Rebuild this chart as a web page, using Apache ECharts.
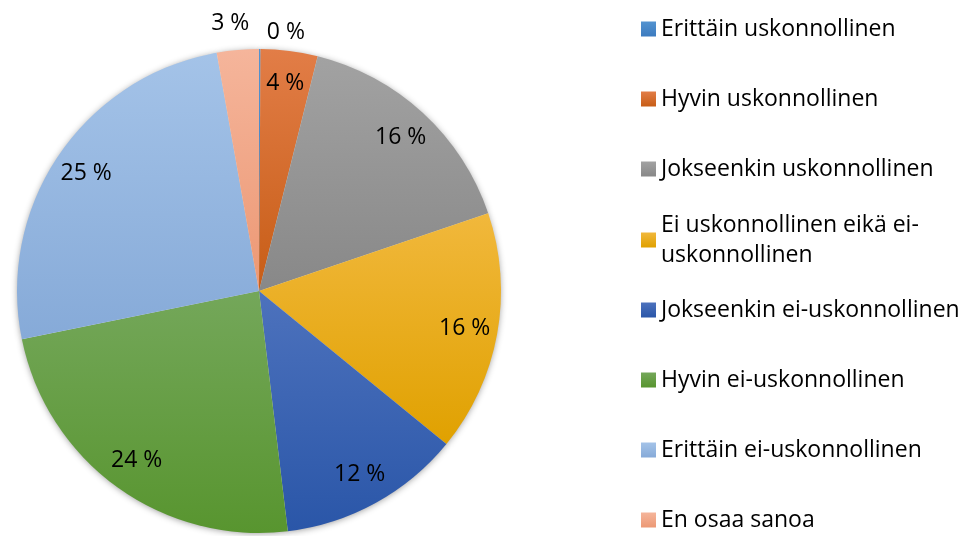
<!DOCTYPE html>
<html>
<head>
<meta charset="utf-8">
<script src="https://cdn.jsdelivr.net/npm/echarts@6/dist/echarts.min.js"></script>
<style>
  html, body { margin: 0; padding: 0; background: #fff; }
  #pie { width: 968px; height: 536px; }
</style>
</head>
<body>
<div id="pie"></div>
<script>
var names = [
    'Erittäin uskonnollinen',
    'Hyvin uskonnollinen',
    'Jokseenkin uskonnollinen',
    'Ei uskonnollinen eikä ei-uskonnollinen',
    'Jokseenkin ei-uskonnollinen',
    'Hyvin ei-uskonnollinen',
    'Erittäin ei-uskonnollinen',
    'En osaa sanoa'
];
var values = [0.1, 3.8, 15.9, 16.1, 12.2, 23.7, 25.4, 2.8]; // prosentit
// gradient top / bottom per slice
var topColors = ['#5393d0', '#e27d47', '#a2a2a2', '#f1b83c', '#4d72bd', '#74a75a', '#a4c3e8', '#f5b59b'];
var bottomColors = ['#3c7bbf', '#c75d16', '#888888', '#e0a100', '#2a56a8', '#58952f', '#86aad8', '#ec9874'];

var myChart = echarts.init(document.getElementById('pie'));
var font = 'Open Sans';

function grad(i) {
    return new echarts.graphic.LinearGradient(0, 0, 0, 1, [
        { offset: 0, color: topColors[i] },
        { offset: 1, color: bottomColors[i] }
    ]);
}

function pct(p) {
    return Math.round(p.percent) + ' %';
}

// small slices get their label outside the pie
var outside = {
    0: { length: 17, dist: 7 },
    7: { length: 27, dist: -14 }
};

var mainData = [], shadowData = [], labelData = [];
for (var i = 0; i < names.length; i++) {
    var d = { name: names[i], value: values[i], itemStyle: { color: grad(i) } };
    if (outside[i]) {
        d.label = { show: true, position: 'outside', distanceToLabelLine: outside[i].dist };
        d.labelLine = { show: false, length: outside[i].length, length2: 0 };
    }
    mainData.push(d);
    shadowData.push({ name: names[i], value: values[i] });
    labelData.push({ name: names[i], value: values[i], label: { show: !outside[i] } });
}

var legendText = { fontFamily: font, fontSize: 23, lineHeight: 30, color: '#000' };

var option = {
    animation: false,
    textStyle: { fontFamily: font },
    legend: [
        {
            orient: 'vertical', left: 641, top: 14, padding: 0,
            itemWidth: 15, itemHeight: 15, itemGap: 40, icon: 'rect',
            textStyle: legendText,
            data: names.slice(0, 3)
        },
        {
            orient: 'vertical', left: 641, top: 195, padding: 0,
            itemWidth: 15, itemHeight: 15, icon: 'rect',
            formatter: function () { return 'Ei uskonnollinen eikä ei-\nuskonnollinen'; },
            textStyle: Object.assign({ padding: [30, 0, 0, 0] }, legendText),
            data: [names[3]]
        },
        {
            orient: 'vertical', left: 641, top: 295, padding: 0,
            itemWidth: 15, itemHeight: 15, itemGap: 40, icon: 'rect',
            textStyle: legendText,
            data: names.slice(4)
        }
    ],
    series: [
        {
            name: 'osuus',
            type: 'pie',
            center: [259, 291],
            radius: 242,
            startAngle: 90,
            z: 2,
            avoidLabelOverlap: false,
            silent: true,
            itemStyle: { borderWidth: 0 },
            label: { show: false, formatter: pct, fontSize: 23, color: '#000' },
            labelLine: { show: false },
            data: mainData
        },
        {
            // varjo
            name: 'varjo',
            type: 'pie',
            center: [259, 291],
            radius: 241,
            startAngle: 90,
            z: 1,
            silent: true,
            label: { show: false },
            labelLine: { show: false },
            itemStyle: { color: '#fff', shadowBlur: 7, shadowColor: 'rgba(0,0,0,0.45)', shadowOffsetY: 1 },
            data: shadowData
        },
        {
            // tekstit 0.85 * säde
            name: 'tekstit',
            type: 'pie',
            center: [259, 291],
            radius: 412,
            startAngle: 90,
            z: 3,
            silent: true,
            avoidLabelOverlap: false,
            itemStyle: { color: 'rgba(0,0,0,0)' },
            label: { position: 'inside', formatter: pct, fontSize: 23, color: '#000' },
            labelLine: { show: false },
            data: labelData
        }
    ]
};
myChart.setOption(option);
</script>
</body>
</html>
